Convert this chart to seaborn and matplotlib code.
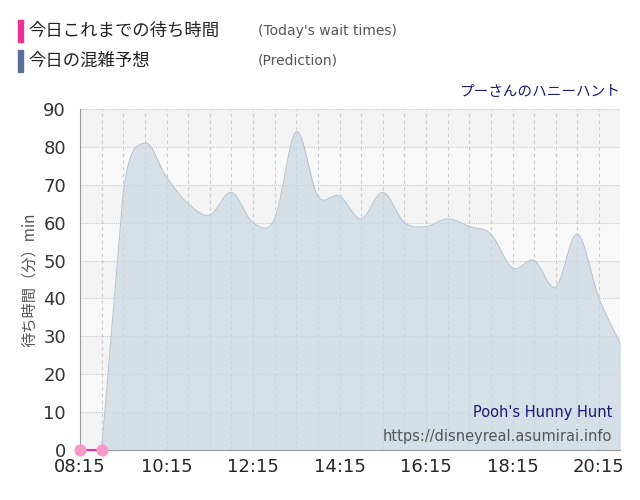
import matplotlib
matplotlib.use("Agg")
import matplotlib.pyplot as plt
import seaborn as sns
import numpy as np
import pandas as pd

sns.set_style("white")
plt.rcParams['font.family'] = ['Noto Sans CJK JP', 'DejaVu Sans']

pred_times = ["08:15","08:45","09:15","09:45","10:15","10:45","11:15","11:45","12:15","12:45",
              "13:15","13:45","14:15","14:45","15:15","15:45","16:15","16:45","17:15","17:45",
              "18:15","18:45","19:15","19:45","20:15","20:45"]
pred_vals = [0,0,68,81,72,65,62,68,60,61,84,67,67,61,68,60,59,61,59,57,48,50,43,57,40,28]
actual_times = ["08:15","08:45"]
actual_vals = [0,0]
tick_labels = ["08:15","10:15","12:15","14:15","16:15","18:15","20:15"]

def h(t):
    a, b = t.split(":"); return int(a) + int(b)/60

px = np.array([h(t) for t in pred_times])
def catmull(x, y, n=20, linear_first=2):
    xs, ys = [], []
    P = list(zip(x, y)); P = [P[0]] + P + [P[-1]]
    for i in range(1, len(P)-2):
        p0, p1, p2, p3 = [np.array(p) for p in P[i-1:i+3]]
        for t in np.linspace(0, 1, n, endpoint=False):
            if i <= linear_first:
                pt = p1 + (p2 - p1)*t
            else:
                pt = 0.5*((2*p1) + (-p0+p2)*t + (2*p0-5*p1+4*p2-p3)*t**2 + (-p0+3*p1-3*p2+p3)*t**3)
            xs.append(pt[0]); ys.append(pt[1])
    xs.append(x[-1]); ys.append(y[-1])
    return np.array(xs), np.clip(np.array(ys), 0, None)
sx, sy = catmull(px, np.array(pred_vals, float))

fig = plt.figure(figsize=(6.4, 5.0), dpi=100)
ax = fig.add_axes([80/640, 50/500, 540/640, 341/500])
x0, x1 = h("08:15"), h("08:15") + (620-80)/86.5*2
ax.set_xlim(x0, x1); ax.set_ylim(0, 90)
for i in range(9):
    ax.axhspan(i*10, i*10+10, color="#f3f3f3" if i % 2 == 0 else "#f8f8f8", zorder=0, lw=0)
for v in range(10, 91, 10):
    ax.axhline(v, color="#cccccc", ls=(0, (1, 1)), lw=0.8, zorder=1)
for xv in np.arange(x0 + 0.5, x1, 0.5):
    ax.axvline(xv, color="#cccccc", ls=(0, (3, 3)), lw=0.8, zorder=1)
ax.fill_between(sx, sy, color="#c9d7e3", alpha=0.7, zorder=2, lw=0)
sns.lineplot(x=sx, y=sy, color="#b8c6d3", lw=0.8, ax=ax, zorder=3)
sns.lineplot(x=[h(t) for t in actual_times], y=actual_vals, color="#f02c96", lw=1.5,
             marker="o", markersize=8, markerfacecolor="#f59ac8", markeredgecolor="#f59ac8",
             ax=ax, zorder=4, clip_on=False)
ax.set_xticks([h(t) for t in tick_labels]); ax.set_xticklabels(tick_labels, fontsize=13, family="DejaVu Sans")
ax.set_yticks(range(0, 91, 10)); ax.set_yticklabels([str(v) for v in range(0, 91, 10)], fontsize=13, color="#333333", family="DejaVu Sans")
ax.tick_params(axis="x", length=0, pad=6)
ax.tick_params(axis="y", length=0, pad=10)
for s in ["top", "right"]: ax.spines[s].set_visible(False)
ax.spines["left"].set_color("#999999"); ax.spines["bottom"].set_color("#999999")
ax.set_ylabel("待ち時間（分）min", fontsize=11, color="#555555")
ax.text(0.985, 0.098, "Pooh's Hunny Hunt", transform=ax.transAxes, ha="right", fontsize=10.5, color="#1a1a6e", family="DejaVu Sans")
ax.text(0.985, 0.025, "https://disneyreal.asumirai.info", transform=ax.transAxes, ha="right", fontsize=10.5, color="#555555", family="DejaVu Sans")
fig.text(620/640, 1-92/500, "プーさんのハニーハント", ha="right", va="center", fontsize=10.5, color="#1a1a6e")
fig.patches.append(plt.Rectangle((18/640, 1-42/500), 5/640, 22/500, color="#f02c96", transform=fig.transFigure))
fig.patches.append(plt.Rectangle((18/640, 1-72/500), 5/640, 22/500, color="#5a6e9b", transform=fig.transFigure))
fig.text(28/640, 1-31/500, "今日これまでの待ち時間", va="center", fontsize=12.5, color="#222222")
fig.text(28/640, 1-61/500, "今日の混雑予想", va="center", fontsize=12.5, color="#222222")
fig.text(258/640, 1-31/500, "(Today's wait times)", va="center", fontsize=10, color="#555555", family="DejaVu Sans")
fig.text(258/640, 1-61/500, "(Prediction)", va="center", fontsize=10, color="#555555", family="DejaVu Sans")
fig.savefig("out.png", dpi=100)
